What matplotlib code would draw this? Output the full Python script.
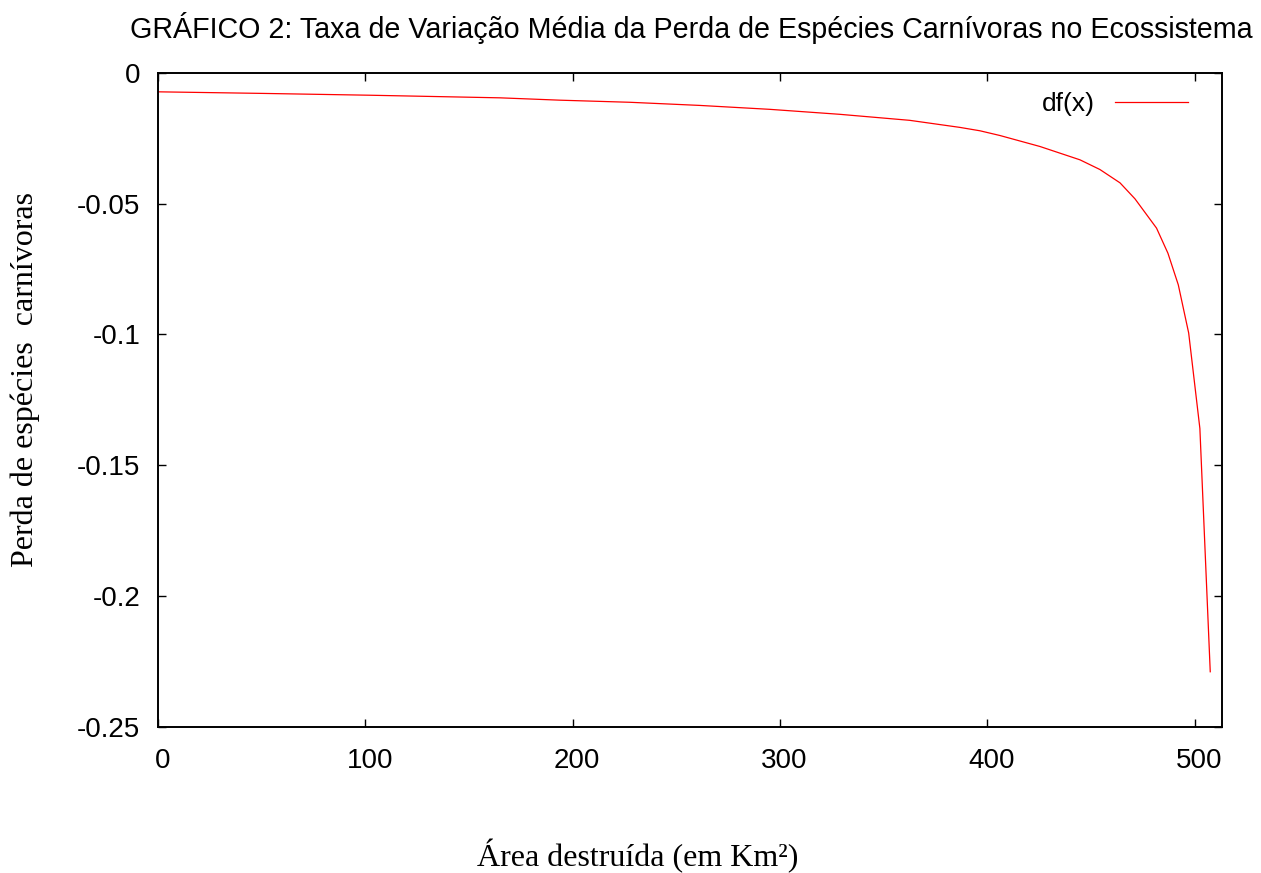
import numpy as np
import matplotlib.pyplot as plt
import matplotlib.transforms as mtransforms

# Values
area = [0, 50, 102, 165, 194, 227.6, 261.3, 295.1, 328.8, 362.5, 386.7, 396.4,
        406, 425.3, 444.6, 454.2, 463.9, 471.1, 481.5, 487, 492, 497, 502.4, 507.4]
df_values = [-0.0073, -0.0079, -0.0086, -0.0096, -0.0105, -0.0113, -0.0125,
             -0.0140, -0.0159, -0.0182, -0.0209, -0.0222, -0.0240, -0.0282,
             -0.0333, -0.0370, -0.0421, -0.0482, -0.0594, -0.069, -0.0811,
             -0.0995, -0.136, -0.229]

x_ticks = [0, 100, 200, 300, 400, 500]
y_ticks = [0, -0.05, -0.1, -0.15, -0.2, -0.25]
y_tick_labels = ['0', '-0.05', '-0.1', '-0.15', '-0.2', '-0.25']

fig = plt.figure(figsize=(12.61, 8.73), dpi=100)
ax = fig.add_axes([0.1251, 0.1676, 0.9688 - 0.1251, 0.9167 - 0.1676])

ax.plot(area, df_values, color='red', linewidth=0.9, label='df(x)')

ax.set_xlim(0, 512.9)
ax.set_ylim(-0.25, 0)
ax.set_xticks(x_ticks)
ax.set_xticklabels([str(t) for t in x_ticks])
ax.set_yticks(y_ticks)
ax.set_yticklabels(y_tick_labels)

ax.tick_params(direction='in', length=6, width=1, top=True, right=True,
               colors='black')
ax.tick_params(axis='x', pad=15)
ax.tick_params(axis='y', pad=12.5)

# gnuplot puts the x labels a few pixels right of the ticks
shift = mtransforms.ScaledTranslation(0.045, 0, fig.dpi_scale_trans)
for lab in ax.get_xticklabels():
   lab.set_transform(lab.get_transform() + shift)
for lab in ax.get_xticklabels() + ax.get_yticklabels():
   lab.set_family('Liberation Sans')
   lab.set_fontsize(20)

for s in ax.spines.values():
   s.set_linewidth(1.4)

leg = ax.legend(loc='upper right', bbox_to_anchor=(0.978, 0.986), borderaxespad=0,
                frameon=False, markerfirst=False,
                handlelength=2.77, handletextpad=0.76,
                prop={'family': 'Liberation Sans', 'size': 19})

fig.text(0.548, 0.968, 'GRÁFICO 2: Taxa de Variação Média da Perda de Espécies Carnívoras no Ecossistema',
         ha='center', va='center', family='Liberation Sans', fontsize=20.6)
fig.text(0.506, 0.019, 'Área destruída (em Km²)', ha='center', va='center',
         family='Liberation Serif', fontsize=23)
fig.text(0.02, 0.565, 'Perda de espécies  carnívoras', ha='center', va='center',
         rotation=90, family='Liberation Serif', fontsize=23)

fig.savefig('out.png', dpi=100)
